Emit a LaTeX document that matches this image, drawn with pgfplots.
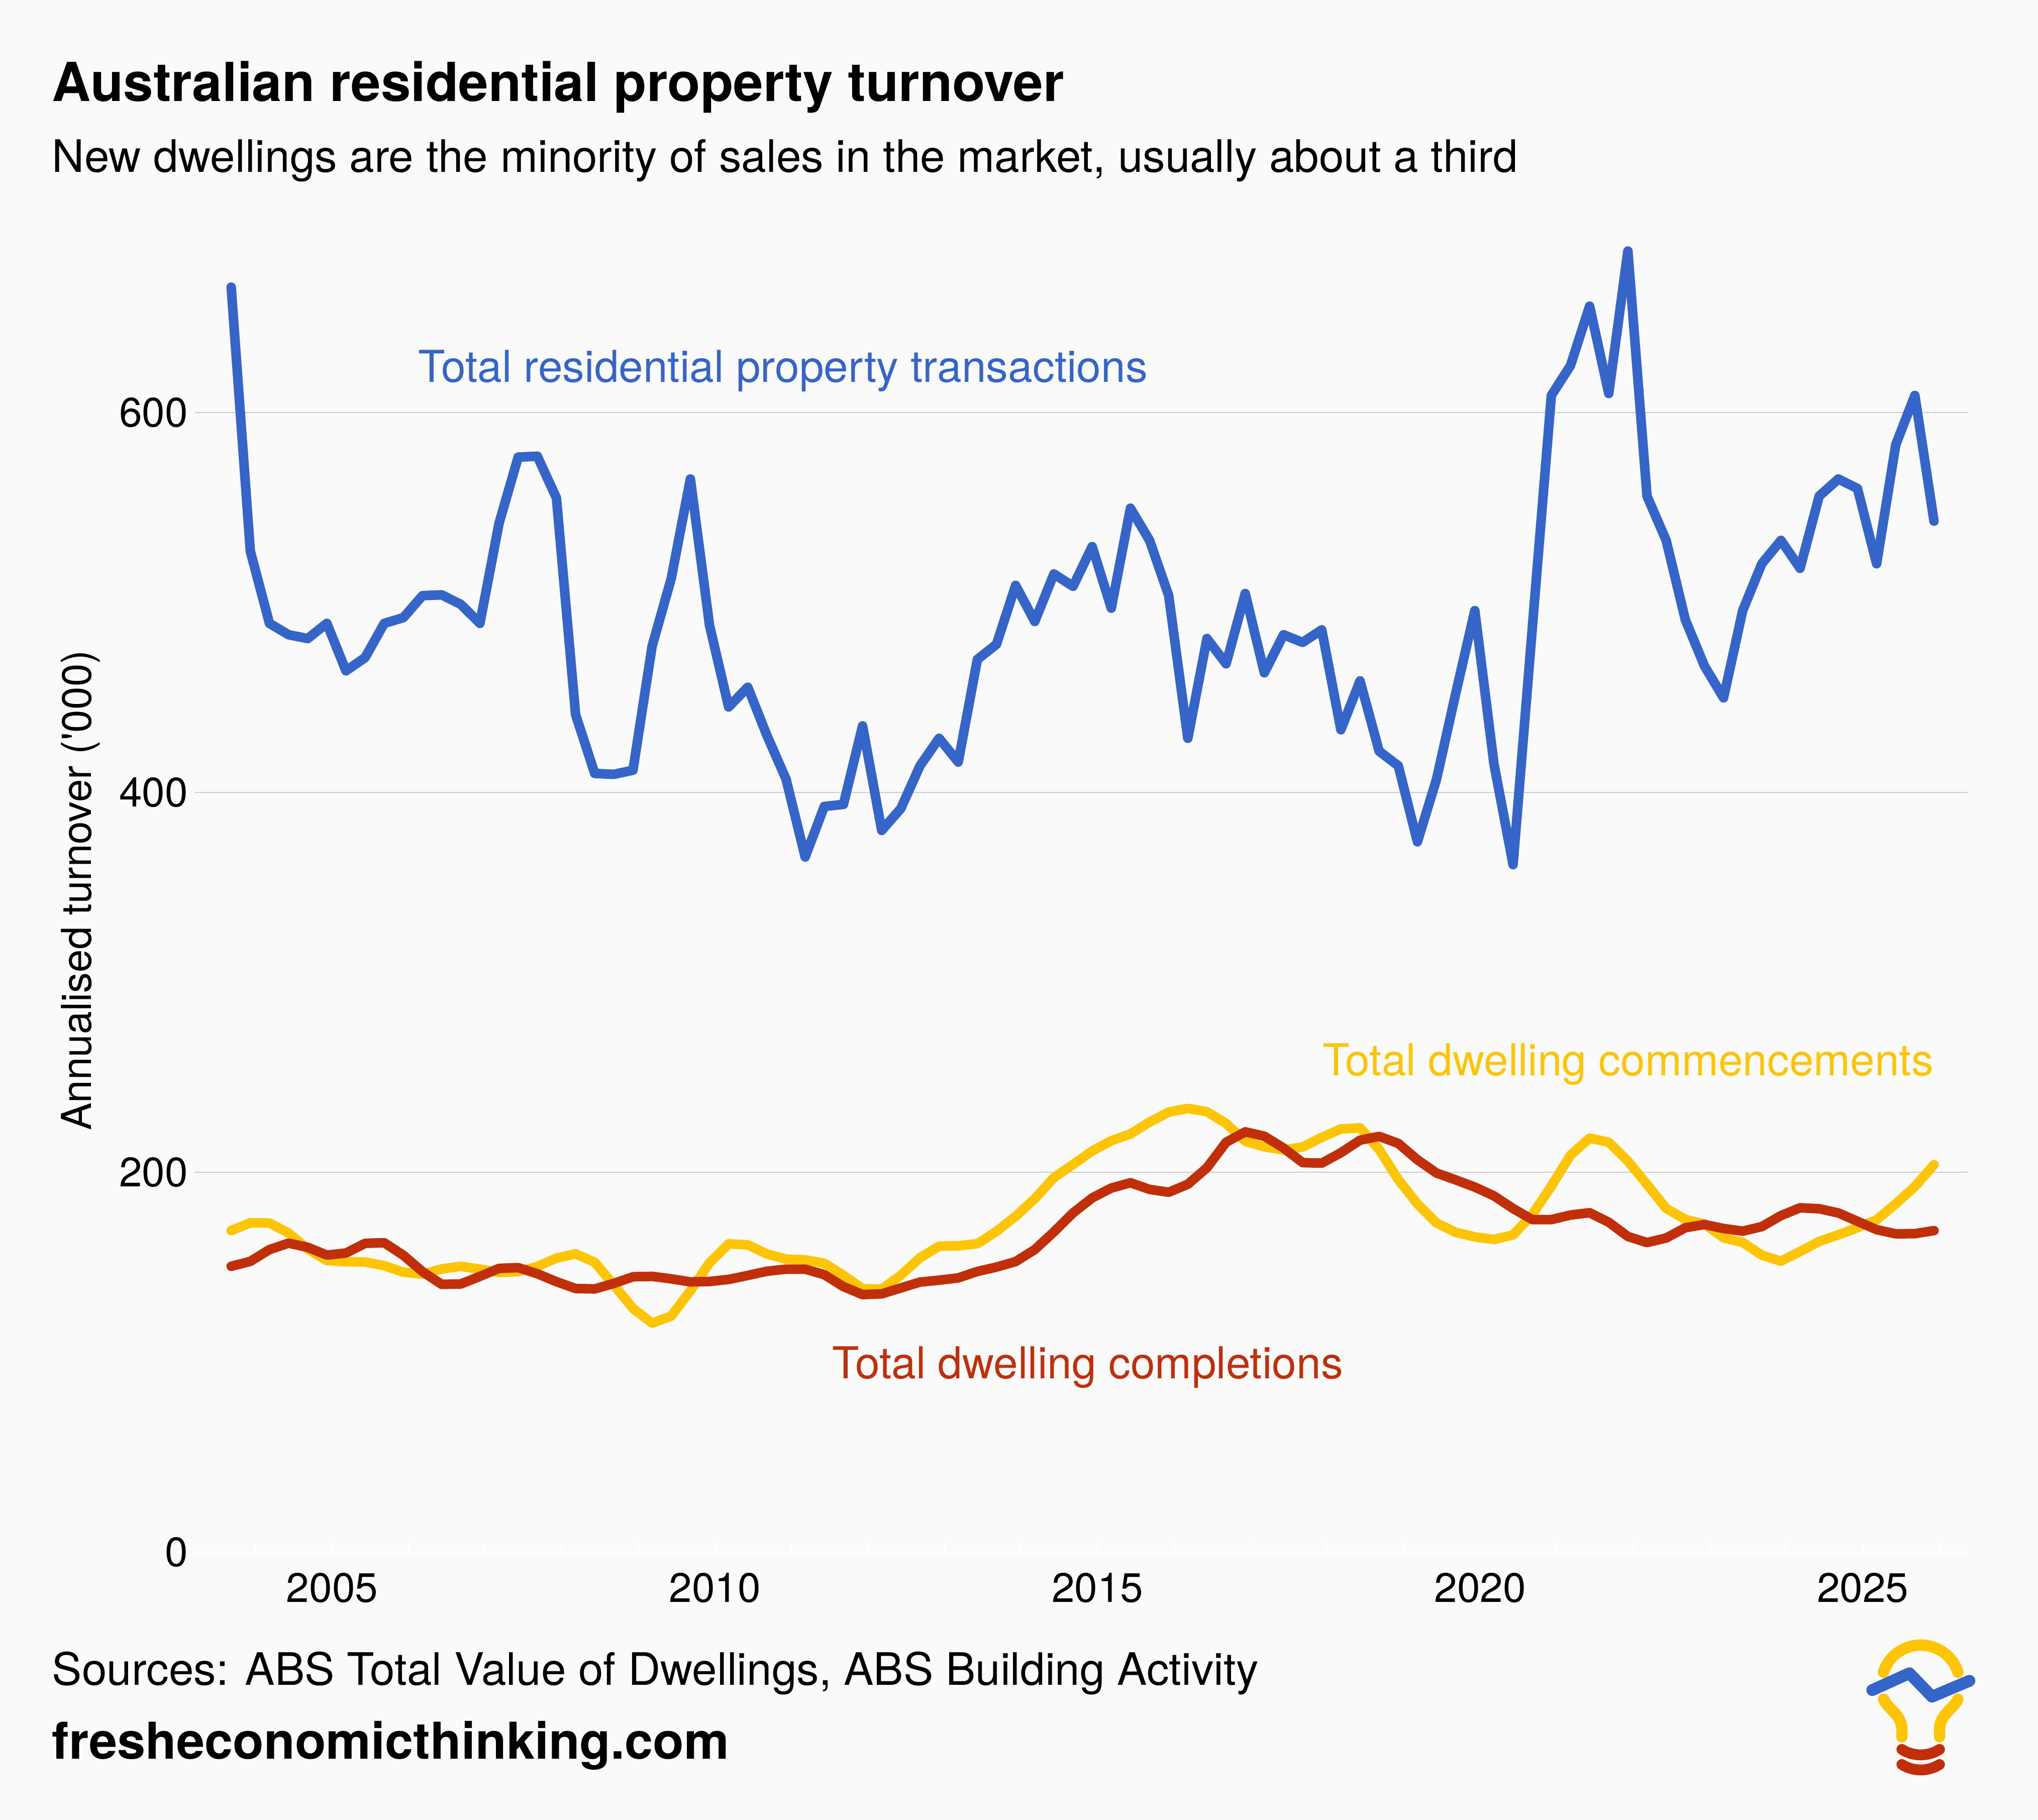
\documentclass[border=0pt]{standalone}
\usepackage{pgfplots}
\usepackage{pgfplotstable}
\pgfplotsset{compat=1.18}
\usepackage{fontspec}
\setmainfont{TeX Gyre Heros}
\newfontfamily\straight{TeX Gyre Heros}[Ligatures=TeXOff]
\definecolor{bg}{HTML}{FAFAFA}
\definecolor{cblue}{HTML}{3565C8}
\definecolor{cyellow}{HTML}{FFC505}
\definecolor{cred}{HTML}{C02F0A}
\definecolor{gridc}{HTML}{CCCCCC}

\pgfplotstableread{
year blue comm comp
2003.68 666 169.3 150.5
2003.93 527 173.4 153.1
2004.18 489 173.3 159.3
2004.43 483 168.0 162.7
2004.68 481 159.6 160.5
2004.93 489 153.5 156.4
2005.18 464 152.9 157.5
2005.43 471 152.8 162.6
2005.68 489 150.8 162.9
2005.93 492 147.4 156.3
2006.18 503.6 146.4 147.7
2006.43 504 149.1 141.0
2006.68 499 150.5 141.2
2006.93 489 149.0 145.2
2007.18 541.7 147.3 149.4
2007.43 576.5 147.7 149.8
2007.68 577 150.4 146.6
2007.93 555 154.8 142.4
2008.18 441 157.1 138.8
2008.43 410 152.6 138.6
2008.68 409.5 140.7 141.5
2008.93 411.7 128.3 145.0
2009.18 477 120.6 145.2
2009.43 512.6 124.3 143.9
2009.68 565 137.6 142.3
2009.93 488 152.3 142.5
2010.18 445 162.3 143.6
2010.43 455.4 161.8 145.7
2010.68 430 157.0 147.9
2010.93 407 154.3 149.0
2011.18 366 153.9 149.0
2011.43 392.6 152.1 146.1
2011.68 393.7 145.8 139.8
2011.93 435 138.7 135.6
2012.18 380 138.5 136.0
2012.43 391.5 145.8 139.1
2012.68 414 155.0 142.2
2012.93 428.5 161.1 143.2
2013.18 416 161.3 144.4
2013.43 470 162.4 147.8
2013.68 478 168.9 150.1
2013.93 509 176.8 153.0
2014.18 490 186.1 159.3
2014.43 515 197.2 168.6
2014.68 508.5 204.1 178.6
2014.93 529.4 211.2 186.5
2015.18 497 216.6 191.7
2015.43 549.6 220.2 194.5
2015.68 532.7 226.4 191.0
2015.93 503.6 231.7 189.5
2016.18 428.5 233.6 193.7
2016.43 481 231.9 202.4
2016.68 467.7 225.7 215.8
2016.93 504.7 216.3 221.3
2017.18 463 213.4 219.0
2017.43 483 211.8 212.8
2017.68 479 213.3 205.1
2017.93 485.6 218.4 204.8
2018.18 433 222.8 210.3
2018.43 458.7 223.4 216.9
2018.68 421.7 212.0 218.9
2018.93 414 196.2 215.2
2019.18 374 183.4 206.6
2019.43 407 173.3 199.6
2019.68 452 168.4 196.0
2019.93 495.7 166.0 192.2
2020.18 415 164.6 187.6
2020.43 362 167.0 180.9
2020.68 486 177.7 175.1
2020.93 609 192.7 175.1
2021.18 624.7 209.0 177.5
2021.43 656 218.0 178.7
2021.68 610 215.8 173.7
2021.93 685 205.9 166.2
2022.18 556 193.6 163.0
2022.43 532.7 181.0 165.4
2022.68 491 175.2 170.8
2022.93 466.6 172.8 172.5
2023.18 449.8 165.5 170.4
2023.43 495.7 163.1 169.0
2023.68 520.4 156.4 171.4
2023.93 532.7 153.2 177.2
2024.18 518 158.3 181.3
2024.43 556 163.6 180.8
2024.68 565 167.1 178.6
2024.93 560 170.8 174.2
2025.18 520.4 175.0 169.8
2025.43 583 183.4 167.6
2025.68 609 192.5 167.7
2025.93 542.8 204.0 169.3
}\data

\begin{document}
\begin{tikzpicture}
\path[fill=bg, use as bounding box] (0,0) rectangle (811.2bp,724.4bp);

\begin{axis}[
  at={(77.4bp,106.6bp)}, anchor=south west,
  scale only axis, width=705.8bp, height=529.2bp,
  xmin=2003.2, xmax=2026.37, ymin=0, ymax=700,
  clip=false,
  axis line style={draw=none},
  xtick={2005,2010,2015,2020,2025},
  minor xtick={2004,...,2026},
  ytick={0,200,400,600},
  ymajorgrids,
  major grid style={gridc, line width=0.4bp},
  xtick pos=left,
  tick align=inside,
  major tick length=4bp, minor tick length=4bp,
  xtick style={white, line width=0.6bp},
  minor tick style={white, line width=0.6bp},
  ytick style={draw=none},
  /pgf/number format/1000 sep={},
  /pgf/number format/assume math mode=true,
  xticklabel style={font=\fontsize{16.4bp}{19bp}\selectfont, inner sep=0pt, yshift=-8bp},
  yticklabel style={font=\fontsize{16.4bp}{19bp}\selectfont, inner sep=0pt, xshift=-2.4bp},
]
\draw[white, line width=0.7bp] (rel axis cs:0,0) -- (rel axis cs:1,0);
\addplot[cblue, line width=3.8bp, line join=round, line cap=round] table[x=year, y=blue] {\data};
\addplot[cyellow, line width=3.8bp, line join=round, line cap=round] table[x=year, y=comm] {\data};
\addplot[cred, line width=3.8bp, line join=round, line cap=round] table[x=year, y=comp] {\data};

\node[anchor=base west, inner sep=0, text=cblue, font=\fontsize{17.5bp}{21bp}\selectfont] at (axis cs:2006.12,616) {Total residential property transactions};
\node[anchor=base east, inner sep=0, text=cyellow, font=\fontsize{17.5bp}{21bp}\selectfont] at (axis cs:2025.93,251) {Total dwelling commencements};
\node[anchor=base west, inner sep=0, text=cred, font=\fontsize{17.5bp}{21bp}\selectfont] at (axis cs:2011.53,91.5) {Total dwelling completions};
\end{axis}

\node[rotate=90, inner sep=0, font=\fontsize{16.4bp}{19bp}\selectfont] at (32bp,370bp) {Annualised turnover ({\straight'}000)};

\node[anchor=base west, inner sep=0, font=\fontsize{21.4bp}{25bp}\selectfont\bfseries] at (20.6bp,684.1bp) {Australian residential property turnover};
\node[anchor=base west, inner sep=0, font=\fontsize{17.8bp}{21bp}\selectfont] at (20.6bp,655.9bp) {New dwellings are the minority of sales in the market, usually about a third};
\node[anchor=base west, inner sep=0, font=\fontsize{17.8bp}{21bp}\selectfont] at (20.6bp,53.6bp) {Sources: ABS Total Value of Dwellings, ABS Building Activity};
\node[anchor=base west, inner sep=0, font=\fontsize{20.2bp}{24bp}\selectfont\bfseries] at (20.6bp,24.4bp) {fresheconomicthinking.com};

% logo
\begin{scope}[line cap=round]
\draw[cyellow, line width=4.5bp] (764.5bp,54bp) ++(162:15.6bp) arc[start angle=162, end angle=18, radius=15.6bp];
\draw[cyellow, line width=4.5bp] (749.7bp,48.1bp) .. controls (751.5bp,44bp) and (757bp,42bp) .. (757bp,36bp) -- (757bp,33.1bp);
\draw[cyellow, line width=4.5bp] (779.3bp,48.1bp) .. controls (777.5bp,44bp) and (772bp,42bp) .. (772bp,36bp) -- (772bp,33.1bp);
\draw[cblue, line width=4.7bp, line join=round] (745.2bp,51.7bp) -- (760bp,58.4bp) -- (769bp,49.1bp) -- (783.9bp,55.4bp);
\draw[cred, line width=4.3bp] (757bp,28.1bp) .. controls (761.5bp,25.2bp) and (767.5bp,25.2bp) .. (772bp,28.1bp);
\draw[cred, line width=4.3bp] (757bp,22.1bp) .. controls (761.5bp,19.2bp) and (767.5bp,19.2bp) .. (772bp,22.1bp);
\end{scope}
\end{tikzpicture}
\end{document}
